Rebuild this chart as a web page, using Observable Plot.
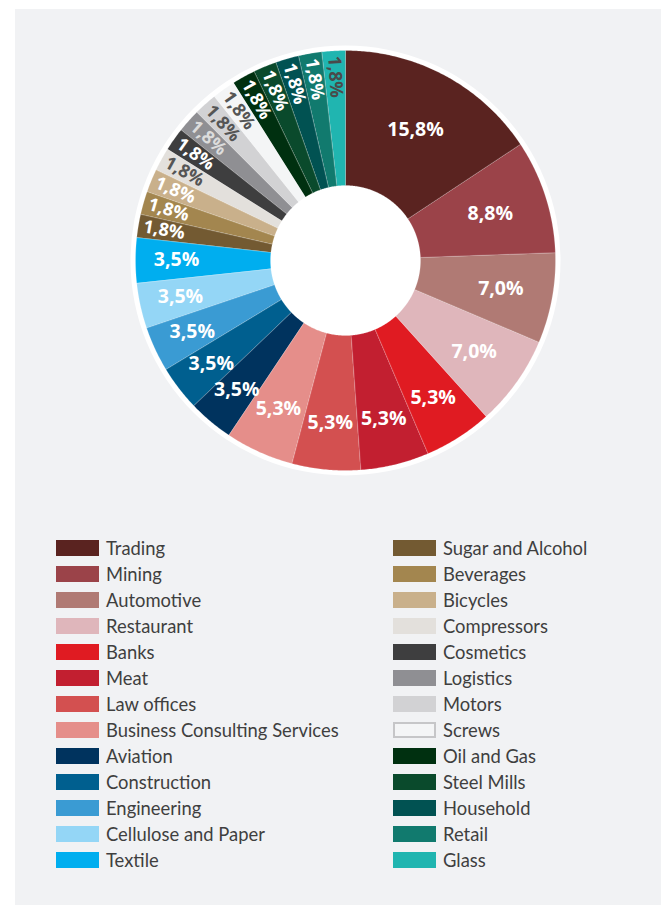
<!DOCTYPE html>
<html><head><meta charset="utf-8">
<script src="https://cdn.jsdelivr.net/npm/d3@7"></script>
<script src="https://cdn.jsdelivr.net/npm/@observablehq/plot@0.6"></script>
<style>
html,body{margin:0;padding:0;background:#fff;}
#panel{position:absolute;left:15px;top:9px;width:646px;height:896px;background:#f1f2f4;overflow:hidden}
#chart{position:absolute;left:0;top:0}
.lg{position:absolute;font-family:Lato,sans-serif;font-size:18.4px;color:#3f3f3f;line-height:16px;height:16px;white-space:nowrap}
.sw{position:absolute;width:43px;height:16px;box-sizing:border-box}
</style></head><body><div id="panel"><div id="chart"></div><div id="legend"></div></div>
<script>
const categories = ["Trading","Mining","Automotive","Restaurant","Banks","Meat","Law offices","Business Consulting Services","Aviation","Construction","Engineering","Cellulose and Paper","Textile","Sugar and Alcohol","Beverages","Bicycles","Compressors","Cosmetics","Logistics","Motors","Screws","Oil and Gas","Steel Mills","Household","Retail","Glass"];
const values = [15.8,8.8,7.0,7.0,5.3,5.3,5.3,5.3,3.5,3.5,3.5,3.5,3.5,1.8,1.8,1.8,1.8,1.8,1.8,1.8,1.8,1.8,1.8,1.8,1.8,1.8];
const colors = ["#5a2320","#9b4349","#b07a74","#dfb6bb","#e01b22","#c21f30","#d35050","#e58e8a","#00335e","#005f8f","#3a9bd3","#94d6f6","#00aeef","#735a32","#a3864f","#c9b08b","#e3e0dc","#3e3e3f","#8f8f93","#d2d2d4","#f4f5f6","#003010","#0a4a2c","#015252","#117a6e","#20b5b0"];
const labelColors = ["#fff","#fff","#fff","#fff","#fff","#fff","#fff","#fff","#fff","#fff","#fff","#fff","#fff","#fff","#fff","#fff","#555","#fff","#dcdcdc","#555","#555","#fff","#fff","#fff","#fff","#4a4a4a"];
const valueLabels = values.map(v => v.toFixed(1).replace(".", ",") + "%");

const total = d3.sum(values);
const R0 = 75, R1 = 210;
function pt(r, a) { return [r * Math.sin(a), -r * Math.cos(a)]; }
let acc = 0;
const slices = categories.map((c, i) => {
  const a0 = acc / total * 2 * Math.PI; acc += values[i];
  const a1 = acc / total * 2 * Math.PI;
  return {name: c, i, a0, a1, mid: (a0 + a1) / 2, value: values[i]};
});
function ring(a0, a1) {
  const n = Math.max(2, Math.ceil((a1 - a0) / (Math.PI / 360)));
  const outer = d3.range(n + 1).map(k => pt(R1, a0 + (a1 - a0) * k / n));
  const inner = d3.range(n + 1).map(k => pt(R0, a1 - (a1 - a0) * k / n));
  const pts = outer.concat(inner); pts.push(pts[0]);
  return pts;
}
const features = slices.map(s => ({type: "Feature", properties: {name: s.name, color: colors[s.i]}, geometry: {type: "Polygon", coordinates: [ring(s.a0, s.a1)]}}));

function labelR(v) { return v >= 15 ? 148 : v >= 8 ? 152 : v >= 7 ? 158 : v >= 5 ? 163 : v >= 3 ? 169 : 184; }
const labels = slices.map(s => {
  const [x, y] = pt(labelR(s.value), s.mid);
  return {x, y, text: valueLabels[s.i], fill: labelColors[s.i], rotate: s.value < 2 ? s.mid * 180 / Math.PI - 270 : 0, small: s.value < 2};
});

const chart = Plot.plot({
  width: 646, height: 510, margin: 0,
  projection: {type: "identity", domain: {type: "MultiPoint", coordinates: [[-330, -251], [316, 259]]}},
  style: {background: "transparent", overflow: "visible"},
  marks: [
    Plot.dot([0], {x: () => 0, y: () => 0, r: 215, fill: "white"}),
    Plot.geo(features, {fill: d => d.properties.color, stroke: "white", strokeOpacity: 0.3, strokeWidth: 0.6}),
    Plot.text(labels.filter(d => !d.small), {x: "x", y: "y", text: "text", fill: "fill", fontSize: 19.5, fontWeight: 700, fontFamily: "Open Sans", rotate: "rotate"}),
    Plot.text(labels.filter(d => d.small), {x: "x", y: "y", text: "text", fill: "fill", fontSize: 18, fontWeight: 700, fontFamily: "Open Sans", rotate: "rotate"})
  ]
});
document.getElementById("chart").appendChild(chart);

const legend = document.getElementById("legend");
categories.forEach((c, i) => {
  const col = i < 13 ? 0 : 1, row = i % 13;
  const top = 531 + row * 26;
  const sw = document.createElement("div");
  sw.className = "sw";
  sw.style.left = (col ? 378 : 41) + "px";
  sw.style.top = top + "px";
  sw.style.background = colors[i];
  if (c === "Screws") { sw.style.border = "2px solid #c6c6c8"; sw.style.background = "#f4f5f6"; }
  legend.appendChild(sw);
  const t = document.createElement("div");
  t.className = "lg";
  t.style.left = (col ? 428 : 91) + "px";
  t.style.top = top + "px";
  t.textContent = c;
  legend.appendChild(t);
});
</script></body></html>
